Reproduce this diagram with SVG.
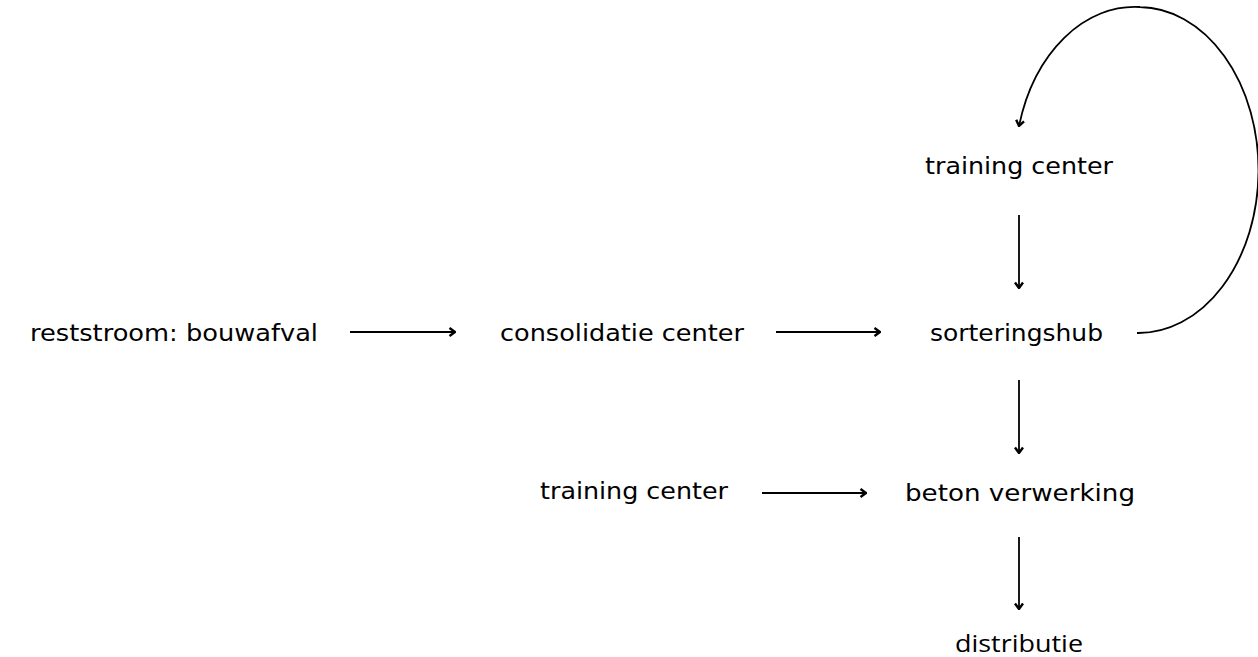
<svg xmlns="http://www.w3.org/2000/svg" width="1258" height="657" viewBox="0 0 1258 657">
<style>
text{font-family:"DejaVu Sans","Noto Sans",sans-serif;font-size:23px;fill:#000}
.d{font-family:"Open Sans","Noto Sans",sans-serif;font-size:23px}
.c{fill:none;stroke:#000;stroke-width:1.8}
</style>
<defs>
<marker id="a" viewBox="0 0 10 10" refX="9" refY="5" markerWidth="10" markerHeight="10" markerUnits="userSpaceOnUse" orient="auto">
<path d="M3.5,1 L9,5 L3.5,9" fill="none" stroke="#000" stroke-width="2.4"/>
</marker>
</defs>
<rect width="1258" height="657" fill="#fff"/>
<g id="n1"><text x="30" y="341" textLength="288" lengthAdjust="spacingAndGlyphs">reststroom: bouwafval</text></g>
<g id="n2"><text x="500" y="341" textLength="244" lengthAdjust="spacingAndGlyphs">consolidatie center</text></g>
<g id="n3"><text x="930" y="341" textLength="173" lengthAdjust="spacingAndGlyphs">sorteringshub</text></g>
<g id="n4"><text x="925" y="174" textLength="188" lengthAdjust="spacingAndGlyphs">training center</text></g>
<g id="n5"><text x="905" y="501" textLength="230" lengthAdjust="spacingAndGlyphs">beton verwerking</text></g>
<g id="n6"><text x="540" y="499" textLength="188" lengthAdjust="spacingAndGlyphs">training center</text></g>
<g id="n7"><text class="d" x="955" y="652" textLength="128" lengthAdjust="spacingAndGlyphs">distributie</text></g>
<g id="connectors">
<path class="c" marker-end="url(#a)" d="M350,332 H455"/>
<path class="c" marker-end="url(#a)" d="M776,332 H880"/>
<path class="c" marker-end="url(#a)" d="M762,493 H866"/>
<path class="c" marker-end="url(#a)" d="M1019,215 V288"/>
<path class="c" marker-end="url(#a)" d="M1019,380 V453"/>
<path class="c" marker-end="url(#a)" d="M1019,537 V609"/>
<path class="c" marker-end="url(#a)" d="M1137,333 A120,163 0 0 0 1140,7 A120,163 0 0 0 1019,126"/>
</g>
</svg>
